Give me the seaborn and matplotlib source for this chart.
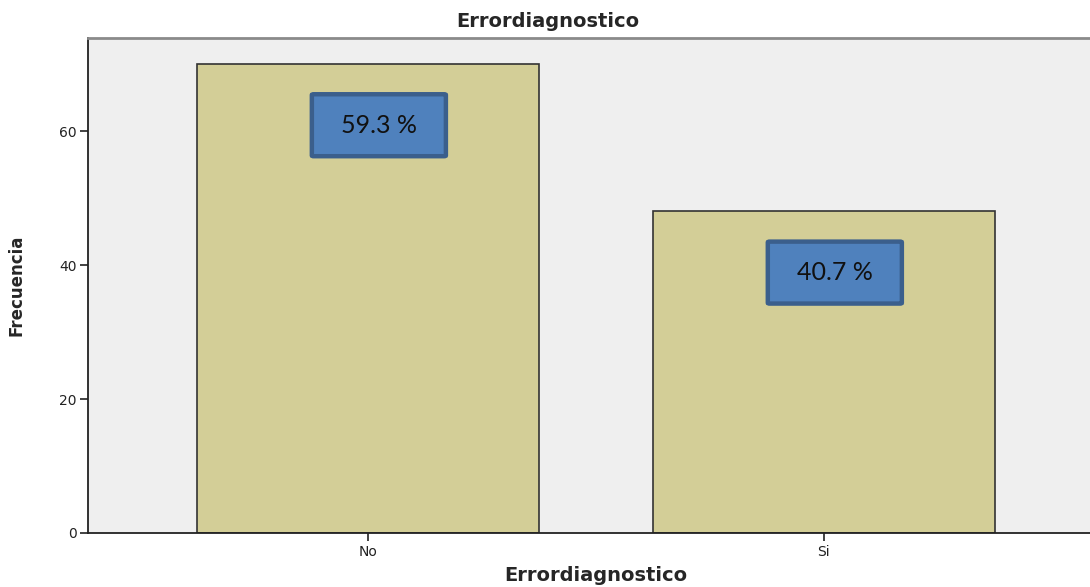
import matplotlib
matplotlib.use("Agg")
import matplotlib.pyplot as plt
from matplotlib.patches import FancyBboxPatch
import seaborn as sns
import pandas as pd

categories = ["No", "Si"]
frequencies = [70, 48]
percent_labels = ["59.3 %", "40.7 %"]
y_ticks = [0, 20, 40, 60]

sns.set_theme(style="white")
plt.rcParams["font.family"] = ["DejaVu Sans"]

fig = plt.figure(figsize=(10.9, 5.87), dpi=100)
ax = fig.add_axes([0.0807, 0.092, 0.932, 0.8433])
ax.set_facecolor("#efefef")

df = pd.DataFrame({"cat": categories, "freq": frequencies})
sns.barplot(data=df, x="cat", y="freq", color="#d3ce97", saturation=1,
            width=0.75, edgecolor="#333333", linewidth=1.2, ax=ax)

ax.set_xlim(-0.614, 1.614)
ax.set_ylim(0, 73.9)
ax.set_yticks(y_ticks)

# percentage call-outs, placed just below each bar's top
box_w, box_h = 0.294, 9.25
for i, (v, lab) in enumerate(zip(frequencies, percent_labels)):
    cx = i + 0.024
    top = v - 4.5
    patch = FancyBboxPatch((cx - box_w / 2, top - box_h), box_w, box_h,
                           boxstyle="round,pad=0,rounding_size=0.004",
                           facecolor="#4f81bd", edgecolor="#3b5f8c",
                           linewidth=3.2, zorder=5, mutation_aspect=30)
    ax.add_patch(patch)
    ax.text(cx, top - box_h / 2, lab, ha="center", va="center",
            fontsize=18, family=["Lato", "DejaVu Sans"], color="#111111", zorder=6)

for s in ["left", "bottom"]:
    ax.spines[s].set_color("#222222")
    ax.spines[s].set_linewidth(1.3)
ax.spines["top"].set_color("#8a8a8a")
ax.spines["top"].set_linewidth(2)
ax.spines["right"].set_visible(False)

ax.tick_params(axis="both", length=6, width=1.2, color="#222222",
               labelsize=10, labelcolor="#222222", direction="out")
ax.tick_params(axis="x", pad=3)
ax.tick_params(axis="y", pad=2)
ax.xaxis.set_ticks_position("bottom")
ax.yaxis.set_ticks_position("left")

ax.set_xlabel("Errordiagnostico", fontsize=14, fontweight="bold", labelpad=5)
ax.set_ylabel("Frecuencia", fontsize=12, fontweight="bold", labelpad=24)
fig.text(0.503, 0.963, "Errordiagnostico", ha="center", va="center",
         fontsize=14, fontweight="bold")

fig.savefig("out.png", dpi=100)
